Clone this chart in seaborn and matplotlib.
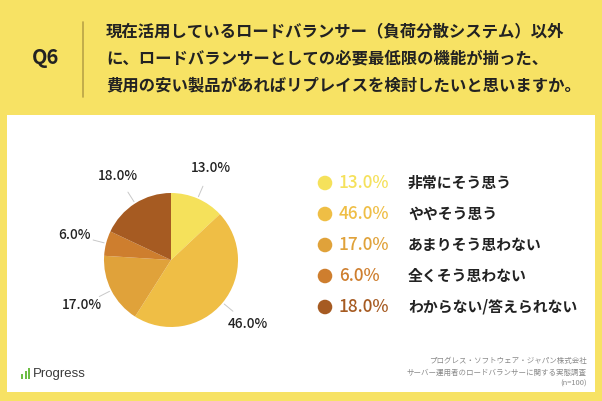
import numpy as np
import matplotlib
matplotlib.use("Agg")
import matplotlib.pyplot as plt
import seaborn as sns
from matplotlib.patches import Rectangle

# データ
kategorie = ["非常にそう思う", "ややそう思う", "あまりそう思わない", "全くそう思わない", "わからない/答えられない"]
hodnoty = [13.0, 46.0, 17.0, 6.0, 18.0]
barvy = ["#F5E15B", "#EFBE45", "#E0A23A", "#CE7E2E", "#A65B22"]
otazka = ["現在活用しているロードバランサー（負荷分散システム）以外",
          "に、ロードバランサーとしての必要最低限の機能が揃った、",
          "費用の安い製品があればリプレイスを検討したいと思いますか。"]
zdroj = ["プログレス・ソフトウェア・ジャパン株式会社",
         "サーバー運用者のロードバランサーに関する実態調査",
         "(n=100)"]

sns.set_theme(style="white")
plt.rcParams['font.family'] = ['Noto Sans CJK JP', 'DejaVu Sans']

W, H = 602, 401
fig = plt.figure(figsize=(W / 100, H / 100), dpi=100)
fig.patch.set_facecolor("#F7E264")

# pozadí v pixelových souřadnicích
bg = fig.add_axes([0, 0, 1, 1])
bg.set_xlim(0, W)
bg.set_ylim(H, 0)
bg.axis("off")
bg.add_patch(Rectangle((7, 115), 588, 277, facecolor="white", edgecolor="none"))

# hlavička
bg.text(46, 58, "Q6", fontsize=14.5, fontweight="bold", color="#222222", ha="center", va="center")
bg.plot([83, 83], [22, 97], color="#B9A347", lw=1.2)
for i, radek in enumerate(otazka):
    bg.text(106, 31 + i * 27, radek, fontsize=11.8, fontweight="bold", color="#222222", va="center")

# legenda
paleta = sns.color_palette(barvy)
for i, (kat, val) in enumerate(zip(kategorie, hodnoty)):
    y = 183 + i * 31
    bg.scatter([325], [y], s=110, color=paleta[i], edgecolors="none")
    bg.text(339, y, f"{val:.1f}%", fontsize=12.4, fontweight="medium", color=paleta[i], va="center")
    bg.text(408, y, kat, fontsize=10.7, fontweight="bold", color="#222222", va="center")

# zdroj
for i, radek in enumerate(zdroj):
    bg.text(587, 361 + i * 11.5, radek, fontsize=5.4, color="#8a8a8a", ha="right", va="center")

# logo Progress
for dx, hh in [(0, 5), (3.5, 8), (7, 11)]:
    bg.add_patch(Rectangle((21 + dx, 379 - hh), 2.4, hh, facecolor="#6DBE45", edgecolor="none"))
bg.text(33, 374, "Progress", fontsize=9.5, color="#3a3a3a", va="center", family="Liberation Sans")

# koláč
cx, cy, r = 171, 260, 67
ax = fig.add_axes([(cx - r) / W, (H - cy - r) / H, 2 * r / W, 2 * r / H])
wedges, _ = ax.pie(hodnoty, colors=paleta, startangle=90, counterclock=False,
                   wedgeprops=dict(linewidth=0))
ax.set_xlim(-1, 1)
ax.set_ylim(-1, 1)
ax.axis("off")
for w, val in zip(wedges, hodnoty):
    a = np.deg2rad((w.theta1 + w.theta2) / 2)
    ax.plot([1.03 * np.cos(a), 1.2 * np.cos(a)], [1.03 * np.sin(a), 1.2 * np.sin(a)],
            color="#c8c8c8", lw=0.7, clip_on=False)
    ax.text(1.49 * np.cos(a), 1.49 * np.sin(a), f"{val:.1f}%", fontsize=9.8, fontweight="medium",
            color="#222222", ha="center", va="center", clip_on=False)

fig.savefig("out.png", dpi=100, facecolor=fig.get_facecolor())
